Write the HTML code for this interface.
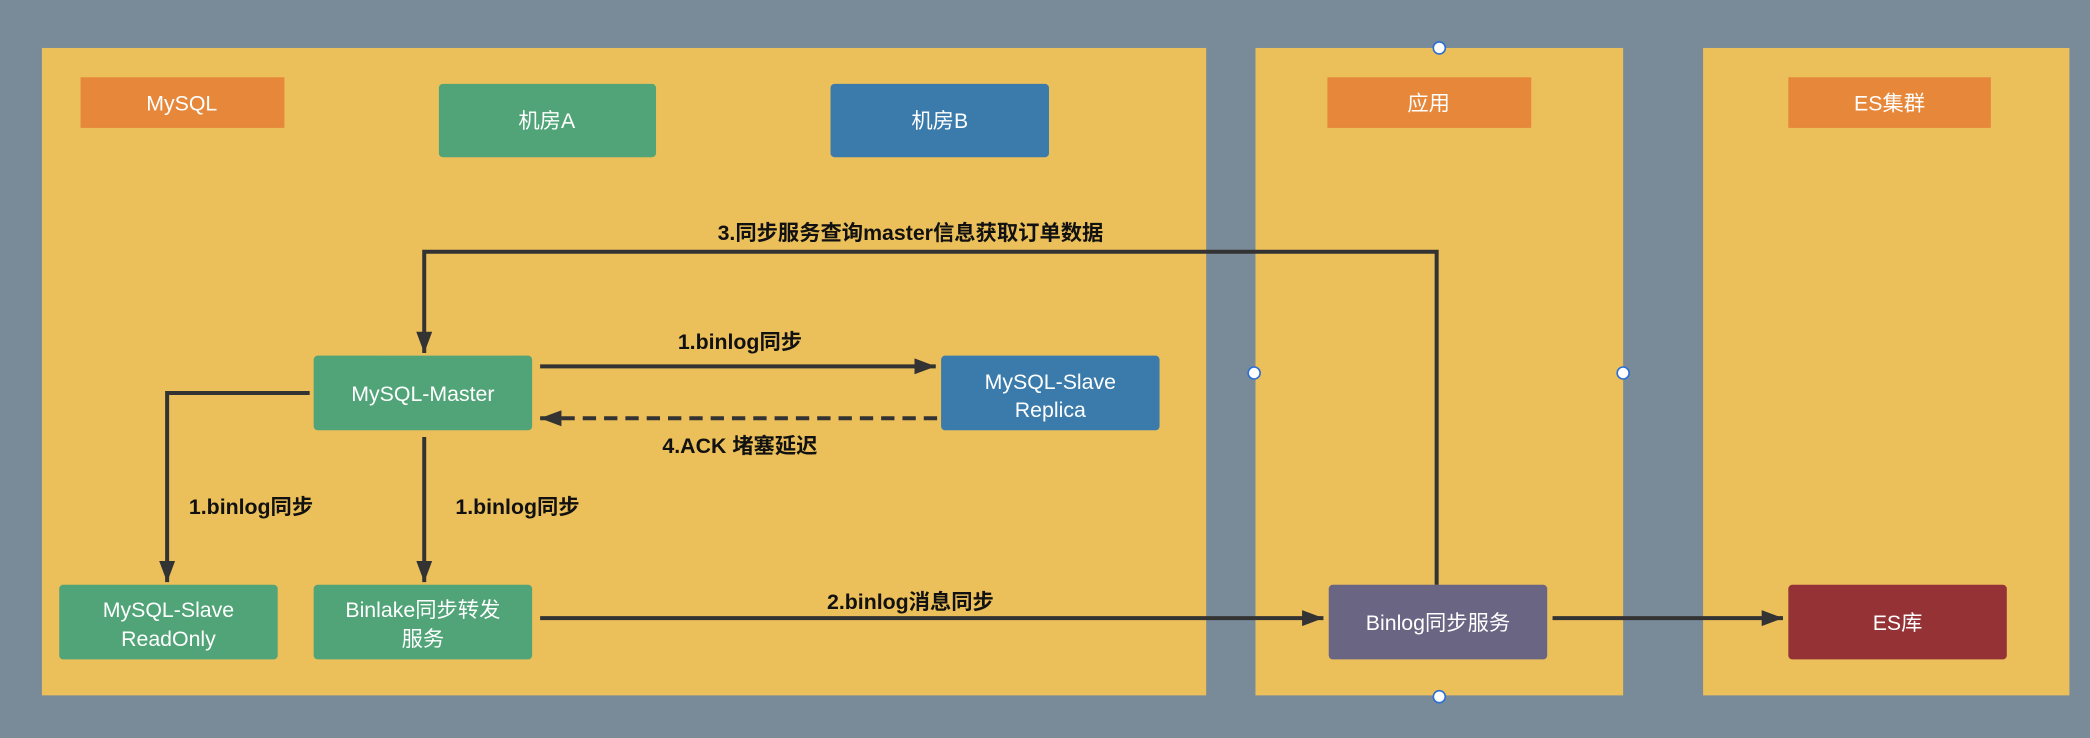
<!DOCTYPE html>
<html><head><meta charset="utf-8"><style>
html,body{margin:0;padding:0;background:#798a99;}
svg{display:block}
text{font-family:"Liberation Sans","Noto Sans CJK SC",sans-serif;font-size:16px;}
.w{fill:#fff;text-anchor:middle}
.k{fill:#111;text-anchor:middle;font-weight:bold}
</style></head><body>
<svg width="2090" height="738" viewBox="0 0 1568 554" xmlns="http://www.w3.org/2000/svg">
<defs><marker id="a" markerWidth="10" markerHeight="10" refX="9" refY="5" orient="auto" markerUnits="userSpaceOnUse"><path d="M0,0 L10,5 L0,10 z" fill="#333"/></marker>
<marker id="b" viewBox="0 0 16 12" markerWidth="16" markerHeight="12" refX="16" refY="6" orient="auto" markerUnits="userSpaceOnUse"><path d="M0,0 L16,6 L0,12 z" fill="#333"/></marker></defs>
<rect x="0" y="0" width="1568" height="554" fill="#798a99"/>
<rect x="31" y="36" width="874" height="486" fill="#ebbf5a"/>
<rect x="942" y="36" width="276" height="486" fill="#ebbf5a"/>
<rect x="1278" y="36" width="275" height="486" fill="#ebbf5a"/>
<rect x="60" y="58" width="153" height="38" fill="#e6873a"/><text class="w" x="136" y="83">MySQL</text>
<rect x="996" y="58" width="153" height="38" fill="#e6873a"/><text class="w" x="1072" y="83">应用</text>
<rect x="1342" y="58" width="152" height="38" fill="#e6873a"/><text class="w" x="1418" y="83">ES集群</text>
<rect x="329" y="63" width="163" height="55" rx="3" fill="#50a478"/><text class="w" x="410" y="96">机房A</text>
<rect x="623" y="63" width="164" height="55" rx="3" fill="#3a7bab"/><text class="w" x="705" y="96">机房B</text>
<rect x="235" y="267" width="164" height="56" rx="3" fill="#50a478"/><text class="w" x="317" y="301">MySQL-Master</text>
<rect x="706" y="267" width="164" height="56" rx="3" fill="#3a7bab"/><text class="w" x="788" y="292">MySQL-Slave</text><text class="w" x="788" y="313">Replica</text>
<rect x="44" y="439" width="164" height="56" rx="3" fill="#50a478"/><text class="w" x="126" y="463">MySQL-Slave</text><text class="w" x="126" y="485">ReadOnly</text>
<rect x="235" y="439" width="164" height="56" rx="3" fill="#50a478"/><text class="w" x="317" y="463">Binlake同步转发</text><text class="w" x="317" y="485">服务</text>
<rect x="997" y="439" width="164" height="56" rx="3" fill="#6b6584"/><text class="w" x="1079" y="473">Binlog同步服务</text>
<rect x="1342" y="439" width="164" height="56" rx="3" fill="#943236"/><text class="w" x="1424" y="473">ES库</text>
<g stroke="#333" stroke-width="3" fill="none">
<path d="M1078,439 V189 H318 V265" marker-end="url(#b)"/>
<path d="M405,275 H702" marker-end="url(#b)"/>
<path d="M703,314 H405" stroke-dasharray="10,6" marker-end="url(#b)"/>
<path d="M232,295 H125 V437" marker-end="url(#b)"/>
<path d="M318,328 V437" marker-end="url(#b)"/>
<path d="M405,464 H993" marker-end="url(#b)"/>
<path d="M1165,464 H1338" marker-end="url(#b)"/>
</g>
<text class="k" x="683" y="180">3.同步服务查询master信息获取订单数据</text>
<text class="k" x="555" y="262">1.binlog同步</text>
<text class="k" x="555" y="340">4.ACK 堵塞延迟</text>
<text class="k" x="188" y="386">1.binlog同步</text>
<text class="k" x="388" y="386">1.binlog同步</text>
<text class="k" x="683" y="457">2.binlog消息同步</text>
<g fill="#fff" stroke="#2a6fd6" stroke-width="1.2">
<circle cx="1080" cy="36" r="4.5"/><circle cx="941" cy="280" r="4.5"/><circle cx="1218" cy="280" r="4.5"/><circle cx="1080" cy="523" r="4.5"/>
</g>
</svg>
</body></html>
